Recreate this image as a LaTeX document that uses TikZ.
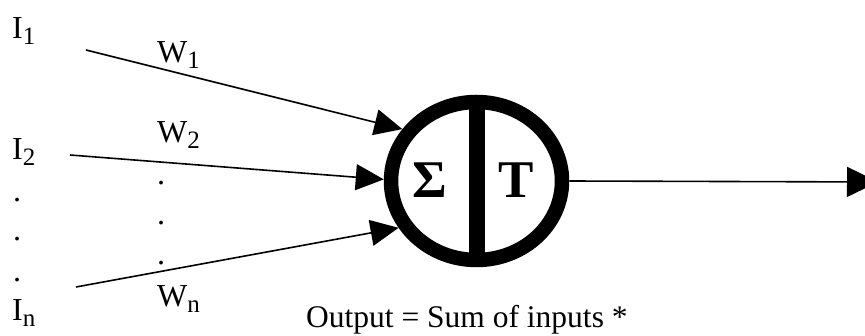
\documentclass[tikz,border=0pt]{standalone}
\usepackage{fontspec}
\setmainfont{Liberation Serif}
\usetikzlibrary{arrows.meta,shapes.geometric}
\newcommand\lsub[1]{\raisebox{-6pt}{\fontsize{25}{25}\selectfont #1}}
\tikzset{
  lbl/.style={anchor=base west,inner sep=0pt,font=\fontsize{32}{32}\selectfont},
  dotlbl/.style={anchor=base,inner sep=0pt,font=\fontsize{32}{32}\selectfont},
  big/.style={anchor=base,inner sep=0pt,font=\fontsize{53}{53}\selectfont\bfseries},
  inarrow/.style={line width=1.6pt,-{Triangle[length=28pt,width=26pt]}},
  outarrow/.style={line width=1.6pt,-{Triangle[length=31pt,width=30pt]}},
}
\begin{document}
\begin{tikzpicture}[x=1pt,y=-1pt]
\clip (0,0) rectangle (865,336);
\fill[white] (0,0) rectangle (865,336);
% neuron
\node[ellipse,draw,line width=14.5pt,minimum width=171pt,minimum height=158pt,inner sep=0pt] (neuron) at (476.5,181) {};
\draw[line width=16pt] ([yshift=-7pt]neuron.north) -- ([yshift=7pt]neuron.south);
\node[big] (sigma) at (430,198) {Σ};
\node[big] (tee) at (516,198) {T};
% inputs
\node[lbl] (i1) at (12,39) {I\lsub{1}};
\node[lbl] (i2) at (12,160) {I\lsub{2}};
\node[lbl] (in) at (12,321) {I\lsub{n}};
\node[dotlbl] (d1) at (17,201.5) {.};
\node[dotlbl] (d2) at (17,240.5) {.};
\node[dotlbl] (d3) at (17,281.5) {.};
\node[lbl] (w1) at (157,63) {W\lsub{1}};
\node[lbl] (w2) at (157,143) {W\lsub{2}};
\node[lbl] (wn) at (157,307) {W\lsub{n}};
\node[dotlbl] (e1) at (161,184.5) {.};
\node[dotlbl] (e2) at (161,224.5) {.};
\node[dotlbl] (e3) at (161,264.5) {.};
\coordinate (s1) at (86,50);
\coordinate (s2) at (70,155);
\coordinate (sn) at (76,287);
\draw[inarrow] (s1) -- (neuron.145);
\draw[inarrow] (s2) -- (neuron.179);
\draw[inarrow] (sn) -- (neuron.211);
% output
\coordinate (out) at (878,182);
\draw[outarrow] (neuron.east) -- (out);
\node[anchor=base west,inner sep=0pt,font=\fontsize{31.5}{31.5}\selectfont] (caption) at (306,328) {Output = Sum of inputs *};
\end{tikzpicture}
\end{document}
